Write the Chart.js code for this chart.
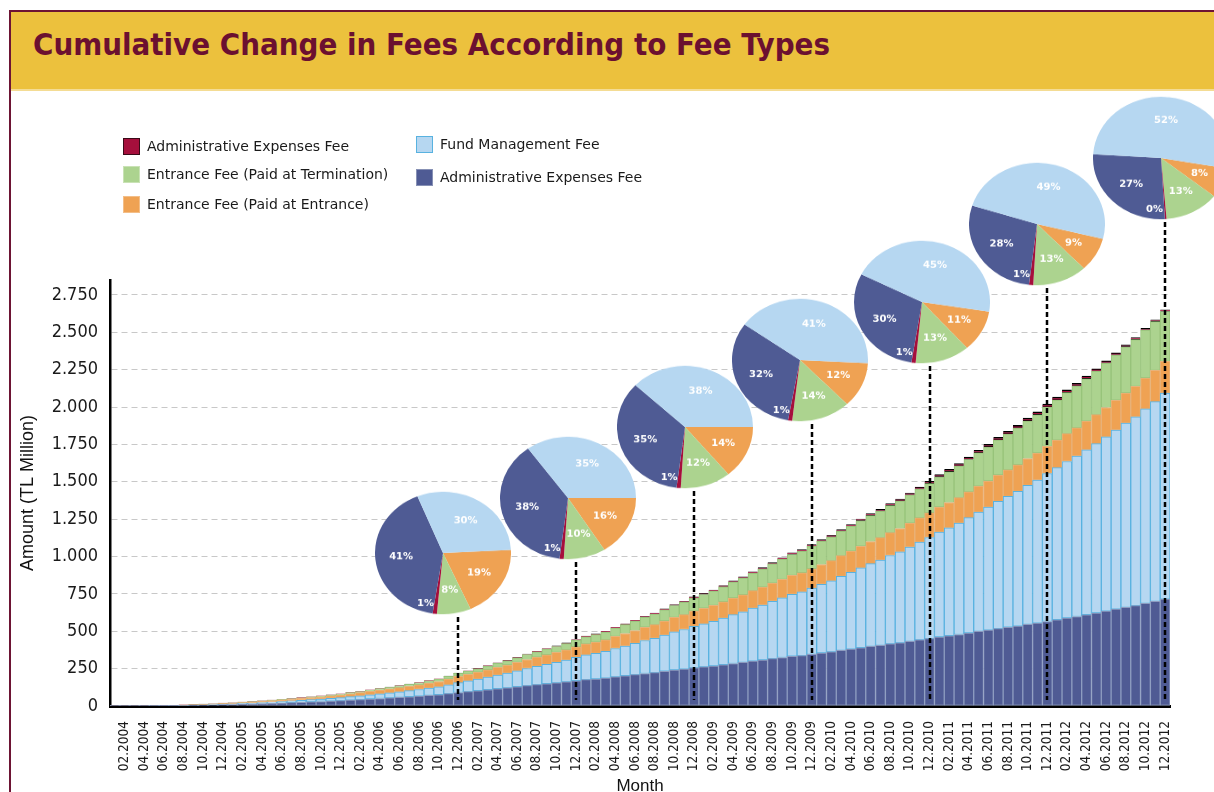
<!DOCTYPE html>
<html>
<head>
<meta charset="utf-8">
<script src="https://cdn.jsdelivr.net/npm/chart.js@4.4.1/dist/chart.umd.min.js"></script>
<style>
  html, body { margin: 0; padding: 0; background: #fff; overflow: hidden; }
  body { width: 1214px; height: 792px; position: relative; font-family: "DejaVu Sans", sans-serif; }
  #frame { position: absolute; left: 9px; top: 10px; width: 1210px; height: 800px;
           border-left: 2px solid #6d1434; border-top: 2px solid #6d1434; }
  #header { position: absolute; left: 11px; top: 12px; width: 1210px; height: 77px;
            background: #ecc13d; border-bottom: 2px solid #f4dc94; }
  #title { position: absolute; left: 33px; top: 29px; font: bold 31px/31px "DejaVu Sans Condensed", "DejaVu Sans", sans-serif;
           color: #6b1030; white-space: nowrap; transform-origin: 0 0; }
  #main { position: absolute; left: 0; top: 0; }
  .legend-item { position: absolute; height: 18px; display: flex; align-items: center; font-size: 14px; color: #1a1a1a; white-space: nowrap; }
  .legend-item span.sw { width: 15px; height: 15px; margin-right: 7px; box-sizing: content-box; }
  .pie { position: absolute; transform: scaleY(0.9); transform-origin: 50% 50%; }
</style>
</head>
<body>
<div id="frame"></div>
<div id="header"></div>
<div id="title">Cumulative Change in Fees According to Fee Types</div>
<canvas id="main" width="1214" height="800"></canvas>
<div id="legend"></div>

<script>
// ---- data (TL million, cumulative, monthly 01.2004 - 12.2012) ----
const years = ['2004', '2005', '2006', '2007', '2008', '2009', '2010', '2011', '2012'];
const months = [];
years.forEach(y => {
    for (let m = 1; m <= 12; m++) months.push(String(m).padStart(2, '0') + '.' + y);
});

const adminExpensesBlue = [
    0.5, 0.5, 0.5, 1, 1.4, 1.8, 2.3, 3.2, 4.1, 5.5, 6.9, 8.7,
    10.1, 11.9, 13.7, 15.9, 18.1, 20.3, 22.4, 25, 27.6, 30.1, 32.7, 35.6,
    39.4, 42.6, 46.7, 50.3, 53.9, 57.8, 61.7, 65.9, 71, 75.5, 82.5, 90.2,
    96.2, 102.1, 108.7, 115.2, 121.6, 128.8, 136.6, 142.7, 148.8, 154.8, 161.4, 169.1,
    176.7, 180.8, 186.3, 195, 202.1, 209.5, 217.5, 223.6, 232.4, 241, 247.1, 255.5,
    261.7, 267.7, 276.1, 284.6, 291.6, 300.5, 307.9, 316.8, 324.6, 332.8, 337.3, 345.6,
    354.3, 361.7, 371.7, 380.4, 389.9, 399, 405.7, 415.3, 422.4, 432.2, 442, 450.9,
    461.8, 469.7, 478.2, 488.6, 498.8, 507.5, 518.1, 526.7, 534.9, 545.6, 554.4, 565.6,
    576.8, 588.6, 598.8, 610.7, 622.2, 635, 647.7, 660.3, 671.7, 686.6, 699.5, 715.5
];
const fundManagement = [
    0.2, 0.2, 0.2, 0.4, 0.6, 0.8, 1, 1.4, 1.8, 2.4, 3, 3.8,
    4.5, 5.4, 6.4, 7.6, 8.8, 10.1, 11.5, 13.1, 14.7, 16.5, 18.2, 20.3,
    22.9, 25.3, 28.4, 31.2, 34.1, 37.4, 40.7, 44.4, 48.9, 53.1, 59.2, 66,
    71.7, 77.7, 84.4, 91.2, 98.2, 106, 114.5, 121.9, 129.6, 137.5, 146, 155.8,
    165, 171.1, 178.8, 189.7, 199.4, 209.5, 220.5, 229.8, 242.1, 254.6, 264.6, 277.4,
    288, 298.8, 312.3, 326.4, 339.1, 354.3, 368.1, 384, 398.9, 414.7, 426.2, 442.8,
    460, 475.9, 495.6, 513.9, 533.8, 553.4, 570.2, 591.3, 609.4, 631.7, 654.4, 676.4,
    701.7, 723, 745.7, 771.9, 798.1, 822.5, 850.5, 875.7, 901, 930.8, 957.8, 989.8,
    1017.5, 1046.9, 1073.6, 1103.5, 1133.6, 1166, 1198.7, 1232.2, 1263.3, 1301.4, 1336.7, 1378
];
const entrancePaidAtEntrance = [
    0.2, 0.2, 0.2, 0.5, 0.7, 1, 1.2, 1.7, 2.2, 2.9, 3.6, 4.6,
    5.2, 6.2, 7.1, 8.2, 9.3, 10.4, 11.4, 12.7, 14, 15.2, 16.4, 17.8,
    19.6, 21.1, 23, 24.6, 26.1, 27.9, 29.6, 31.4, 33.6, 35.5, 38.5, 41.8,
    44.3, 46.6, 49.3, 51.8, 54.3, 57.1, 60, 62.2, 64.3, 66.3, 68.6, 71.2,
    74.1, 75.5, 77.5, 80.8, 83.4, 86.1, 89, 91.1, 94.3, 97.3, 99.3, 102.2,
    104.4, 106.7, 108.8, 111.6, 113.8, 116.6, 118.8, 121.6, 123.9, 126.3, 127.8, 129.6,
    132.6, 135.1, 138.7, 141.7, 144.9, 148, 150.3, 153.4, 155.8, 159.2, 162.3, 165.3,
    167.6, 168.9, 170.2, 172.1, 173.9, 175, 176.6, 177.6, 178.3, 179.7, 180.5, 181.8,
    184.3, 186.8, 188.8, 191.3, 193.6, 196.3, 198.9, 201.3, 203.4, 206.5, 208.7, 212
];
const entrancePaidAtTermination = [
    0.1, 0.1, 0.1, 0.1, 0.2, 0.3, 0.4, 0.6, 0.7, 1, 1.2, 1.5,
    1.8, 2.1, 2.4, 2.8, 3.2, 3.6, 4, 4.5, 5, 5.4, 5.9, 6.5,
    7.3, 8, 8.9, 9.7, 10.6, 11.6, 12.6, 13.7, 14.9, 16, 17.8, 19.8,
    21.4, 23.1, 25, 26.9, 28.8, 31, 33.4, 35.5, 37.4, 39.4, 41.8, 44.5,
    47.6, 49.8, 52.5, 56.2, 59.6, 63.1, 67, 70.4, 74.8, 79.2, 83, 87.6,
    91.6, 95, 100.8, 106, 110.8, 116.6, 121.9, 128, 133.8, 140, 144.2, 151.2,
    154.9, 157.9, 162.3, 166, 169.9, 173.7, 176.6, 180.5, 183.5, 187.7, 191.6, 195.4,
    201.2, 205.8, 210.7, 216.6, 222.3, 227.5, 233.6, 238.8, 244, 250.4, 255.8, 262.6,
    267.8, 273.7, 278.5, 283.8, 289.7, 295.5, 301.3, 307.7, 313, 319.9, 326.5, 333.9
];
const adminExpensesRed = [
    0.3, 0.3, 0.3, 0.3, 0.3, 0.3, 0.3, 0.3, 0.3, 0.3, 0.3, 0.4,
    0.4, 0.5, 0.5, 0.6, 0.6, 0.7, 0.7, 0.8, 0.8, 0.8, 0.8, 0.8,
    0.9, 1, 1.1, 1.2, 1.3, 1.4, 1.5, 1.6, 1.7, 1.8, 2, 2.2,
    2.4, 2.5, 2.7, 2.9, 3.1, 3.3, 3.5, 3.7, 3.8, 4, 4.2, 4.5,
    4.7, 4.8, 5, 5.3, 5.5, 5.7, 6, 6.2, 6.5, 6.8, 7, 7.3,
    7.5, 7.8, 8.1, 8.4, 8.6, 9, 9.3, 9.6, 9.9, 10.2, 10.5, 10.8,
    11.1, 11.4, 11.8, 12.1, 12.5, 12.9, 13.2, 13.5, 13.9, 14.3, 14.7, 15,
    15.5, 15.8, 16.2, 16.7, 17.1, 17.5, 18, 18.4, 18.8, 19.3, 19.7, 20.2,
    19.6, 19, 18.3, 17.7, 16.9, 16.2, 15.4, 14.5, 13.6, 12.6, 11.6, 10.6
];

// pie shares (%) at each year end
const pieMonths = ['12.2006', '12.2007', '12.2008', '12.2009', '12.2010', '12.2011', '12.2012'];
const pieAdminBlue = [41, 38, 35, 32, 30, 28, 27];
const pieFundMgmt = [30, 35, 38, 41, 45, 49, 52];
const pieEntrance = [19, 16, 14, 12, 11, 9, 8];
const pieTermination = [8, 10, 12, 14, 13, 13, 13];
const pieAdminRed = [1, 1, 1, 1, 1, 1, 0.4];

// ---- layout / style ----
const C = {
    blue: '#4f5b94', blueEdge: '#8d9cc0',
    light: '#b6d7f1', lightEdge: '#58b2e0',
    orange: '#efa253', orangeEdge: '#e8b27a',
    green: '#acd38f', greenEdge: '#97c37a',
    red: '#a50f3c'
};
// pie centre offset from its leader line (dx) and centre y, start angle of first slice (deg)
const pieLayout = [
    { dx: -15, cy: 553, start: -3 },
    { dx: -8, cy: 498, start: 0 },
    { dx: -9, cy: 427, start: 0 },
    { dx: -12, cy: 360, start: 3 },
    { dx: -8, cy: 302, start: 9 },
    { dx: -10, cy: 224, start: 14 },
    { dx: -4, cy: 158, start: 10 }
];
const PIE = 136;

function fmtThousands(v) {
    if (v < 1000) return String(v);
    return Math.floor(v / 1000) + '.' + String(v % 1000).padStart(3, '0');
}

// dashed leader lines from pies down to the bars
const leaderLines = {
    id: 'leaderLines',
    afterDatasetsDraw(chart) {
        const { ctx, scales: { x, y } } = chart;
        ctx.save();
        ctx.strokeStyle = '#000';
        ctx.lineWidth = 2.5;
        ctx.setLineDash([5, 3]);
        pieMonths.forEach((m, i) => {
            const px = Math.round(x.getPixelForValue(months.indexOf(m)));
            ctx.beginPath();
            ctx.moveTo(px, pieLayout[i].cy + 64);
            ctx.lineTo(px, y.getPixelForValue(0) - 6);
            ctx.stroke();
        });
        ctx.restore();
    }
};

const datasets = [
    { label: 'Administrative Expenses Fee', data: adminExpensesBlue, backgroundColor: C.blue, borderColor: C.blueEdge, borderWidth: 1 },
    { label: 'Fund Management Fee', data: fundManagement, backgroundColor: C.light, borderColor: C.lightEdge, borderWidth: 1 },
    { label: 'Entrance Fee (Paid at Entrance)', data: entrancePaidAtEntrance, backgroundColor: C.orange, borderColor: C.orangeEdge, borderWidth: 1 },
    { label: 'Entrance Fee (Paid at Termination)', data: entrancePaidAtTermination, backgroundColor: C.green, borderColor: C.greenEdge, borderWidth: 1 },
    { label: 'Administrative Expenses Fee', data: adminExpensesRed, backgroundColor: C.red, borderColor: '#000',
      borderWidth: { top: 2, bottom: 1, left: 0, right: 0 } }
];
datasets.forEach(d => { d.borderSkipped = false; d.barPercentage = 1; d.categoryPercentage = 1; });

const mainChart = new Chart(document.getElementById('main'), {
    type: 'bar',
    data: { labels: months, datasets },
    plugins: [leaderLines],
    options: {
        responsive: false,
        animation: false,
        events: [],
        layout: { padding: { top: 280, left: 14, right: 44, bottom: 0 } },
        plugins: { legend: { display: false }, tooltip: { enabled: false } },
        scales: {
            x: {
                stacked: true,
                grid: { display: false },
                border: { color: '#000', width: 3 },
                ticks: {
                    autoSkip: false, minRotation: 90, maxRotation: 90, padding: 7,
                    color: '#1a1a1a', font: { family: '"DejaVu Sans Condensed", "DejaVu Sans"', size: 13.5 },
                    callback: (v, i) => (i % 2 === 1 ? months[i] : '')
                },
                title: { display: true, text: 'Month', color: '#111', padding: { top: 3, bottom: 3 },
                         font: { family: '"Liberation Sans", Arial', size: 17 } },
                afterFit: s => { s.height = 94; }
            },
            y: {
                stacked: true,
                min: 0, max: 2850,
                grid: { color: '#c8c8c8', lineWidth: 1, drawTicks: false },
                border: { color: '#000', width: 2.5, dash: [6, 4] },
                ticks: {
                    stepSize: 250, includeBounds: false, padding: 12, color: '#1a1a1a',
                    font: { family: '"DejaVu Sans Condensed", "DejaVu Sans"', size: 18 },
                    callback: v => fmtThousands(v)
                },
                title: { display: true, text: 'Amount (TL Million)', color: '#111', padding: { top: 3, bottom: 0 },
                         font: { family: '"Liberation Sans", Arial', size: 18 } },
                afterFit: s => { s.width = 96; }
            }
        }
    }
});

// ---- legend (html) ----
const legendItems = [
    { ds: 4, x: 123, y: 146, edge: '#3a0a18' },
    { ds: 3, x: 123, y: 174, edge: '#c9e2b5' },
    { ds: 2, x: 123, y: 204, edge: '#f3be88' },
    { ds: 1, x: 416, y: 144, edge: C.lightEdge },
    { ds: 0, x: 416, y: 177, edge: '#8791b5' }
];
const legendEl = document.getElementById('legend');
legendItems.forEach(it => {
    const d = datasets[it.ds];
    const div = document.createElement('div');
    div.className = 'legend-item';
    div.style.left = it.x + 'px';
    div.style.top = (it.y - 9) + 'px';
    div.innerHTML = `<span class="sw" style="background:${d.backgroundColor};border:1.5px solid ${it.edge}"></span>${d.label}`;
    legendEl.appendChild(div);
});

// ---- pies ----
const pieLabels = {
    id: 'pieLabels',
    afterDatasetsDraw(chart) {
        const { ctx } = chart;
        const vals = chart.data.datasets[0].data;
        ctx.save();
        ctx.fillStyle = '#fff';
        ctx.font = 'bold 10px "DejaVu Sans"';
        ctx.textBaseline = 'middle';
        chart.getDatasetMeta(0).data.forEach((arc, i) => {
            const p = arc.getProps(['x', 'y', 'startAngle', 'endAngle', 'outerRadius'], true);
            const mid = (p.startAngle + p.endAngle) / 2;
            const small = vals[i] < 2;
            const r = p.outerRadius * (small ? 0.84 : 0.62);
            let lx = p.x + Math.cos(mid) * r;
            const ly = p.y + Math.sin(mid) * r;
            ctx.textAlign = small ? 'right' : 'center';
            if (small) lx -= 2;
            ctx.fillText(Math.round(vals[i]) + '%', lx, ly);
        });
        ctx.restore();
    }
};

const xs = mainChart.scales.x;
pieMonths.forEach((m, i) => {
    const L = pieLayout[i];
    const cx = xs.getPixelForValue(months.indexOf(m)) + L.dx;
    const cv = document.createElement('canvas');
    cv.className = 'pie';
    cv.width = PIE; cv.height = PIE;
    cv.style.left = (cx - PIE / 2) + 'px';
    cv.style.top = (L.cy - PIE / 2) + 'px';
    document.body.appendChild(cv);
    new Chart(cv, {
        type: 'pie',
        data: {
            labels: ['Entrance Fee (Paid at Entrance)', 'Entrance Fee (Paid at Termination)', 'Administrative Expenses Fee',
                     'Administrative Expenses Fee', 'Fund Management Fee'],
            datasets: [{
                data: [pieEntrance[i], pieTermination[i], pieAdminRed[i], pieAdminBlue[i], pieFundMgmt[i]],
                backgroundColor: [C.orange, C.green, C.red, C.blue, C.light],
                borderWidth: 0
            }]
        },
        plugins: [pieLabels],
        options: {
            responsive: false, animation: false, events: [],
            rotation: L.start + 90,
            layout: { padding: 0 },
            plugins: { legend: { display: false }, tooltip: { enabled: false } }
        }
    });
});

// fit title to its width in the reference
const t = document.getElementById('title');
t.style.transform = 'scaleX(' + (797 / t.getBoundingClientRect().width) + ')';
</script>
</body>
</html>
